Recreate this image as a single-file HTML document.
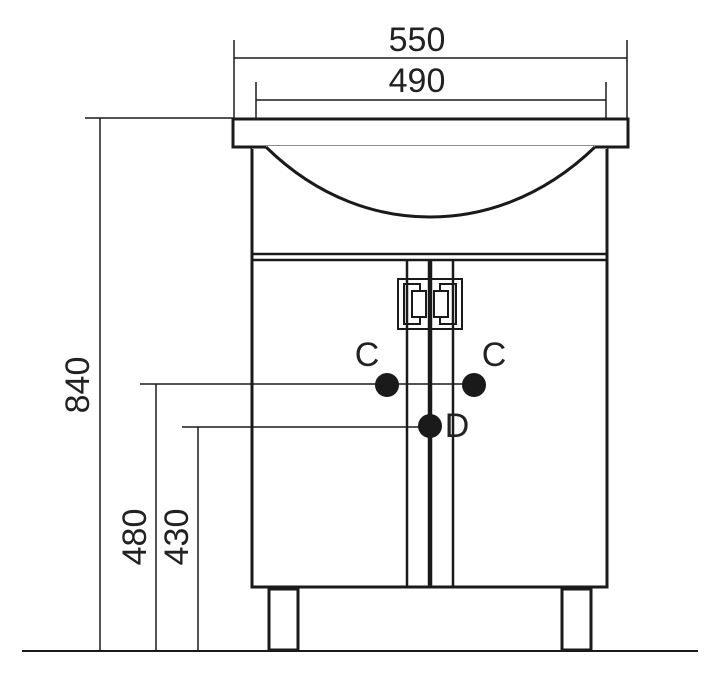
<!DOCTYPE html>
<html><head><style>
html,body{margin:0;padding:0;background:#fff;}
svg{display:block;}
text{font-family:"Liberation Sans",sans-serif;font-size:34px;fill:#222;}
</style></head><body>
<svg width="720" height="677" viewBox="0 0 720 677" xmlns="http://www.w3.org/2000/svg">
<g stroke="#1a1a1a" fill="none">
<g stroke-width="1.5">
<line x1="234" y1="40" x2="234" y2="118"/>
<line x1="627" y1="40" x2="627" y2="118"/>
<line x1="234" y1="58" x2="627" y2="58"/>
<line x1="256" y1="82" x2="256" y2="118"/>
<line x1="606" y1="82" x2="606" y2="118"/>
<line x1="256" y1="100" x2="606" y2="100"/>
<line x1="85" y1="118" x2="233" y2="118"/>
<line x1="100" y1="118" x2="100" y2="651"/>
<line x1="140" y1="384" x2="390" y2="384"/>
<line x1="156" y1="384" x2="156" y2="651"/>
<line x1="182" y1="427" x2="430" y2="427"/>
<line x1="198" y1="427" x2="198" y2="651"/>
<line x1="390" y1="384" x2="475" y2="384"/>
</g>
<line x1="22" y1="651" x2="698" y2="651" stroke-width="2"/>
<rect x="233" y="119" width="395" height="28" stroke-width="3"/>
<rect x="252" y="147" width="355" height="440" stroke-width="3"/>
<rect x="252" y="146" width="355" height="3" fill="#fff" stroke="none"/>
<line x1="252" y1="147" x2="266" y2="147" stroke-width="3"/>
<line x1="595" y1="147" x2="607" y2="147" stroke-width="3"/>
<path d="M266 147 C320 200 380 217 430 217 C480 217 540 200 595 147" stroke-width="3"/>
<line x1="252" y1="254" x2="607" y2="254" stroke-width="2.5"/>
<line x1="252" y1="260" x2="607" y2="260" stroke-width="2.5"/>
<line x1="407" y1="260" x2="407" y2="587" stroke-width="2.5"/>
<line x1="453" y1="260" x2="453" y2="587" stroke-width="2.5"/>
<line x1="430" y1="260" x2="430" y2="587" stroke-width="4.5"/>
<rect x="398" y="279" width="64" height="50" stroke-width="2"/>
<path d="M404 284 H420 V291 H412 V317 H420 V324 H404 Z" stroke-width="2"/>
<path d="M456 284 H440 V291 H448 V317 H440 V324 H456 Z" stroke-width="2"/>
<path d="M420 291 H426 V317 H420" stroke-width="2"/>
<path d="M440 291 H434 V317 H440" stroke-width="2"/>
<rect x="562" y="589" width="29" height="61" stroke-width="3"/>
<rect x="269" y="589" width="29" height="61" stroke-width="3"/>
</g>
<g fill="#1a1a1a">
<circle cx="387" cy="385" r="12"/>
<circle cx="474" cy="385" r="12"/>
<circle cx="430" cy="426" r="12"/>
</g>
<text x="417" y="51" text-anchor="middle">550</text>
<text x="417" y="92" text-anchor="middle">490</text>
<text x="367" y="366" text-anchor="middle">C</text>
<text x="494" y="366" text-anchor="middle">C</text>
<text x="457" y="437" text-anchor="middle">D</text>
<text transform="translate(89,385) rotate(-90)" text-anchor="middle">840</text>
<text transform="translate(146,537) rotate(-90)" text-anchor="middle">480</text>
<text transform="translate(188,537) rotate(-90)" text-anchor="middle">430</text>
</svg>
</body></html>
